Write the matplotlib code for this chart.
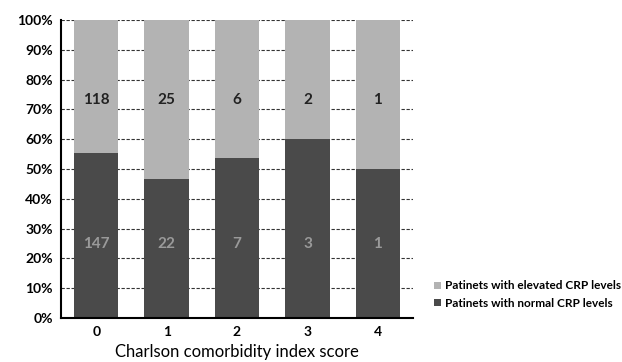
import numpy as np
import matplotlib.pyplot as plt

plt.rcParams['font.family'] = ['Lato', 'DejaVu Sans']

scores = ['0', '1', '2', '3', '4']
normal = [147, 22, 7, 3, 1]
elevated = [118, 25, 6, 2, 1]

normal = np.array(normal, dtype=float)
elevated = np.array(elevated, dtype=float)
total = normal + elevated
p_norm = normal / total * 100
p_elev = elevated / total * 100

fig = plt.figure(figsize=(6.22, 3.62), dpi=100)
ax = fig.add_axes([61 / 622, 1 - 318 / 362, 352 / 622, 298 / 362])

x = np.arange(len(scores))
ax.bar(x, p_norm, width=0.63, color='#4a4a4a', label='Patinets with normal CRP levels')
ax.bar(x, p_elev, bottom=p_norm, width=0.63, color='#b3b3b3',
       label='Patinets with elevated CRP levels')

for i in range(len(scores)):
    ax.text(x[i], 73, str(int(elevated[i])), ha='center', va='center',
            fontsize=11, fontweight='bold', color='#222222')
    ax.text(x[i], 25, str(int(normal[i])), ha='center', va='center',
            fontsize=11, fontweight='bold', color='#9a9a9a')

ax.set_xlim(-0.5, 4.5)
ax.set_ylim(0, 100)
ax.set_yticks(np.arange(0, 101, 10))
ax.set_yticklabels([f'{v}%' for v in range(0, 101, 10)], fontsize=10, fontweight='bold')
ax.set_xticks(x)
ax.set_xticklabels(scores, fontsize=10, fontweight='bold')
ax.tick_params(length=0, pad=6)
ax.set_xlabel('Charlson comorbidity index score', fontsize=12, labelpad=4)

ax.grid(axis='y', linestyle=(0, (3, 1.5)), color='#333333', linewidth=0.8)
ax.set_axisbelow(True)
for s in ['top', 'right']:
    ax.spines[s].set_visible(False)
ax.spines['left'].set_linewidth(1.5)
ax.spines['bottom'].set_linewidth(1.5)

h, l = ax.get_legend_handles_labels()
fig.legend(h[::-1], l[::-1], loc='upper left', bbox_to_anchor=(426 / 622, 1 - 272 / 362),
           frameon=False, prop={'weight': 'bold', 'size': 8.5},
           handlelength=0.55, handleheight=0.55, handletextpad=0.35, labelspacing=0.55,
           borderpad=0.2)

fig.savefig('out.png', dpi=100)
